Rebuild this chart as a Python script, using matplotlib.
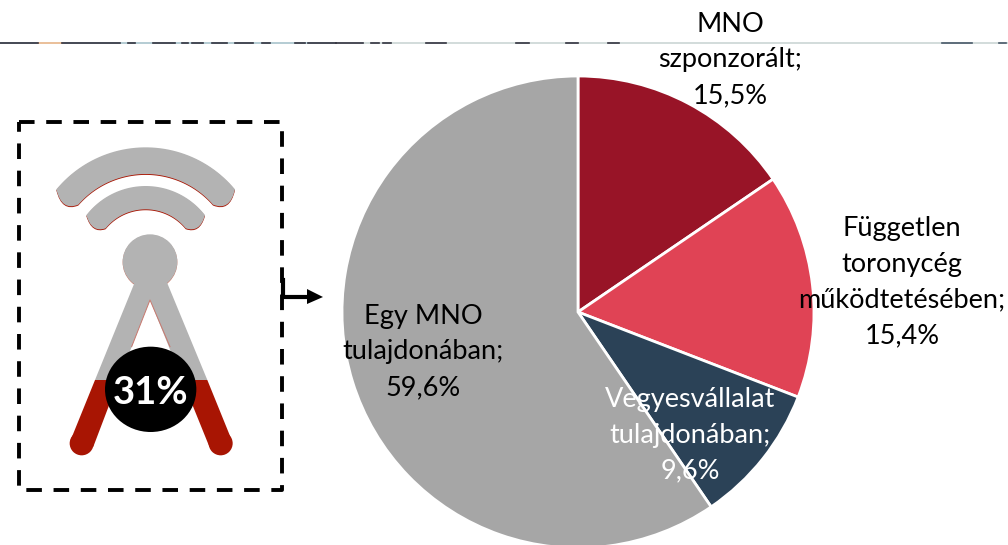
import numpy as np
import matplotlib
matplotlib.use("Agg")
import matplotlib.pyplot as plt
from matplotlib.patches import Polygon, Circle, Ellipse, PathPatch
from matplotlib.path import Path

labels = ["MNO\nszponzorált;\n15,5%", "Független\ntoronycég\nműködtetésében;\n15,4%",
          "Vegyesvállalat\ntulajdonában;\n9,6%", "Egy MNO\ntulajdonában;\n59,6%"]
values = [15.5, 15.4, 9.6, 59.6]
colors = ["#981427", "#E04355", "#2B4257", "#A6A6A6"]
label_colors = ["black", "black", "white", "black"]
label_pos = [(730, 60), (902, 282), (690, 435), (423, 352)]
badge = "31%"

W, H = 1008, 545
plt.rcParams["font.family"] = ["Lato", "DejaVu Sans"]
fig = plt.figure(figsize=(W / 100, H / 100), dpi=100)

# pie axes centred on (578, 312) with radius 236 px (default limits are +-1.25)
side = 236 * 2.5
pie_ax = fig.add_axes([(578 - side / 2) / W, (H - 312 - side / 2) / H, side / W, side / H])
pie_ax.pie(values, colors=colors, startangle=90, counterclock=False,
           wedgeprops=dict(edgecolor="white", linewidth=2.0))

ov = fig.add_axes([0, 0, 1, 1], zorder=5)
ov.set_xlim(0, W)
ov.set_ylim(H, 0)
ov.axis("off")

GRAY, RED = "#B3B3B3", "#A81503"


def z(x, y):
    return (x / 3, 100 + y / 3)


def band(cx, cy, ro, ri, outer, inner, bulge_l, bulge_r, color, dy=0):
    ao = np.arcsin(outer / ro)
    ai = np.arcsin(inner / ri)
    t_o = np.linspace(-ao, ao, 50)
    t_i = np.linspace(ai, -ai, 50)
    po = [z(cx + ro * np.sin(t), cy - ro * np.cos(t) + dy * 3) for t in t_o]
    pi = [z(cx + ri * np.sin(t), cy - ri * np.cos(t) + dy * 3) for t in t_i]
    verts = [po[0]] + po[1:]
    codes = [Path.MOVETO] + [Path.LINETO] * (len(po) - 1)
    verts += [z(bulge_r[0], bulge_r[1] + dy * 3), pi[0]]
    codes += [Path.CURVE3, Path.CURVE3]
    verts += pi[1:]
    codes += [Path.LINETO] * (len(pi) - 1)
    verts += [z(bulge_l[0], bulge_l[1] + dy * 3), po[0]]
    codes += [Path.CURVE3, Path.CURVE3]
    ov.add_patch(PathPatch(Path(verts, codes), fc=color, ec="none"))


for dy, col in ((0.9, RED), (0, GRAY)):
    band(437, 490, 348, 268, 268, 202, (185, 335), (690, 335), col, dy)
    band(437, 483, 225, 155, 178, 120, (275, 400), (600, 400), col, dy)

ov.add_patch(Circle(z(450, 487), 82 / 3, fc="#C8705F", ec="none"))
ov.add_patch(Circle(z(450, 485), 82 / 3, fc=GRAY, ec="none"))

gray_body = [(405, 545), (500, 545), (622, 840), (547, 840), (450, 600), (356, 840), (285, 840)]
ov.add_patch(Polygon([z(*p) for p in gray_body], fc=GRAY, ec="none"))
ov.plot(*zip(z(395, 740), z(450, 600), z(510, 740)), color="#C8786E", lw=0.7)

left_leg = [(285, 840), (356, 840), (280, 1040), (212, 1020)]
right_leg = [(547, 840), (622, 840), (695, 1020), (628, 1040)]
for leg in (left_leg, right_leg):
    ov.add_patch(Polygon([z(*p) for p in leg], fc=RED, ec="none"))
ov.add_patch(Circle(z(245, 1030), 12, fc=RED, ec="none"))
ov.add_patch(Circle(z(662, 1030), 12, fc=RED, ec="none"))
ov.add_patch(Ellipse(z(452, 868), 274 / 3, 256 / 3, fc="black", ec="none"))
ov.text(*z(452, 880), badge, color="white", fontsize=27.5, fontweight="bold", ha="center", va="center")

# dashed frame
ov.plot([19, 282, 282, 19, 19], [122, 122, 490, 490, 122], color="black", lw=2.8,
        linestyle=(0, (4.0, 3.0)))

# arrow
ov.plot([283, 283, 308], [280, 297, 297], color="black", lw=3.0, solid_joinstyle="miter")
ov.add_patch(Polygon([(307, 289), (323, 297), (307, 304)], fc="black", ec="none"))

# top rule
ov.plot([0, 336], [43.3, 43.3], color="#A8C4CC", lw=1.2)
ov.plot([336, W], [43.3, 43.3], color="#CBD6D4", lw=1.2)
dark_left = [(0, 115), (185, 360), (385, 405), (460, 525), (545, 565), (575, 610), (635, 680),
             (705, 760), (785, 810), (885, 915), (925, 1008)]
dark_mid = [(0, 80), (105, 130), (140, 165), (270, 330), (540, 580), (690, 725), (815, 850)]
dark_right = [(810, 900), (980, 1003)]
ov.plot([38, 62], [43.3, 43.3], color="#F5BE90", lw=1.2)
for offset, segs, c in ((0, dark_left, "#33333F"), (336, dark_mid, "#33333F"), (672, dark_right, "#4A5A6A")):
    for a, b in segs:
        ov.plot([offset + a / 3, offset + b / 3], [43.3, 43.3], color=c, lw=1.2)

for text, (x, y), col in zip(labels, label_pos, label_colors):
    ov.text(x, y, text, color=col, fontsize=19.5, ha="center", va="center", linespacing=1.53)

fig.savefig("out.png", dpi=100)
